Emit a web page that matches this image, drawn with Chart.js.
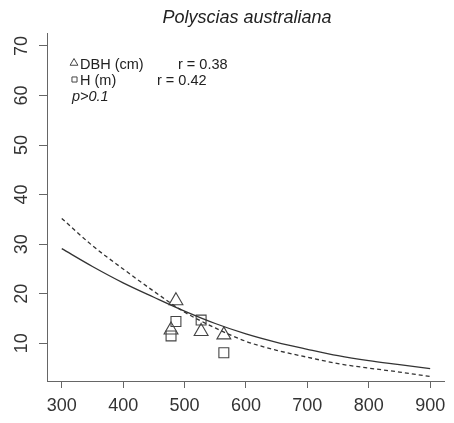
<!DOCTYPE html>
<html>
<head>
<meta charset="utf-8">
<script src="https://cdn.jsdelivr.net/npm/chart.js@4/dist/chart.umd.min.js"></script>
<style>
  html, body { margin: 0; padding: 0; background: #fff; }
  #wrap { width: 454px; height: 423px; position: relative; }
</style>
</head>
<body>
<div id="wrap"><canvas id="chart"></canvas></div>
<script>
/* ── data ── */
const xTicks = [300, 400, 500, 600, 700, 800, 900];
const yTicks = [10, 20, 30, 40, 50, 60, 70];

const siteX   = [478, 486, 527, 564];
const dbhObs  = [12.7, 18.6, 12.4, 11.7];   // triangles
const hObs    = [11.5, 14.4, 14.7, 8.1];    // squares

const fitX    = [300, 350, 400, 450, 500, 550, 600, 650, 700, 750, 800, 850, 900];
const dbhFit  = [29.1, 25.5, 22.2, 19.3, 16.5, 14.0, 11.9, 10.2, 8.8, 7.5, 6.5, 5.7, 4.9];
const hFit    = [35.2, 29.7, 25.0, 20.5, 16.3, 13.1, 10.4, 8.6, 7.2, 5.9, 5.0, 4.2, 3.3];

const FONT = '"Liberation Sans", Arial, sans-serif';
const INK  = '#333';
const AXIS = '#666';

const pts = (xs, ys) => xs.map((x, i) => ({ x, y: ys[i] }));

/* ── title + r/p annotations ── */
const notes = {
  id: 'notes',
  afterDraw(chart) {
    const ctx = chart.ctx;
    ctx.save();
    ctx.fillStyle = '#222';
    ctx.textBaseline = 'alphabetic';

    ctx.font = 'italic 18px ' + FONT;
    ctx.textAlign = 'center';
    ctx.fillText('Polyscias australiana', 247, 23);

    ctx.textAlign = 'left';
    ctx.font = '14.5px ' + FONT;
    ctx.fillText('DBH (cm)', 80, 69);
    ctx.fillText('r = 0.38', 178, 69);
    ctx.fillText('H (m)', 80, 85);
    ctx.fillText('r = 0.42', 157, 85);
    ctx.font = 'italic 14.5px ' + FONT;
    ctx.fillText('p>0.1', 72, 101);

    ctx.strokeStyle = '#444';
    ctx.lineWidth = 1;
    ctx.fillStyle = 'rgba(0,0,0,0)';
    Chart.helpers.drawPoint(ctx, { pointStyle: 'triangle', radius: 4.5, borderWidth: 1, rotation: 0 }, 74, 63);
    Chart.helpers.drawPoint(ctx, { pointStyle: 'rect', radius: 3.6, borderWidth: 1, rotation: 0 }, 74.5, 79.5);
    ctx.restore();
  }
};

new Chart(document.getElementById('chart'), {
  type: 'scatter',
  data: {
    datasets: [
      {
        label: 'DBH fit', type: 'line', data: pts(fitX, dbhFit),
        borderColor: INK, borderWidth: 1.3, pointRadius: 0,
        cubicInterpolationMode: 'monotone', fill: false
      },
      {
        label: 'H fit', type: 'line', data: pts(fitX, hFit),
        borderColor: INK, borderWidth: 1.3, borderDash: [4, 3], pointRadius: 0,
        cubicInterpolationMode: 'monotone', fill: false
      },
      {
        label: 'DBH (cm)', data: pts(siteX, dbhObs),
        pointStyle: 'triangle', pointRadius: 8, borderColor: '#444', borderWidth: 1.1,
        backgroundColor: 'rgba(0,0,0,0)'
      },
      {
        label: 'H (m)', data: pts(siteX, hObs),
        pointStyle: 'rect', pointRadius: 7, borderColor: '#444', borderWidth: 1.1,
        backgroundColor: 'rgba(0,0,0,0)'
      }
    ]
  },
  options: {
    responsive: true,
    maintainAspectRatio: false,
    animation: false,
    layout: { padding: { top: 33, right: 7, left: 0, bottom: 0 } },
    plugins: { legend: { display: false }, tooltip: { enabled: false }, title: { display: false } },
    scales: {
      x: {
        type: 'linear', min: 276, max: 924,
        afterBuildTicks: s => { s.ticks = xTicks.map(v => ({ value: v })); },
        afterFit: s => { s.height = 42; },
        border: { display: true, color: AXIS, width: 1 },
        grid: { drawOnChartArea: false, tickLength: 7, color: AXIS },
        ticks: { color: INK, font: { family: FONT, size: 18 }, padding: 7, maxRotation: 0, autoSkip: false }
      },
      y: {
        type: 'linear', min: 2.4, max: 72.6,
        afterBuildTicks: s => { s.ticks = yTicks.map(v => ({ value: v })); },
        afterFit: s => { s.width = 47; },
        border: { display: true, color: AXIS, width: 1 },
        grid: { drawOnChartArea: false, tickLength: 8, color: AXIS },
        ticks: {
          color: INK, font: { family: FONT, size: 18 }, padding: 7,
          minRotation: 90, maxRotation: 90, crossAlign: 'center', autoSkip: false
        }
      }
    }
  },
  plugins: [notes]
});
</script>
</body>
</html>
